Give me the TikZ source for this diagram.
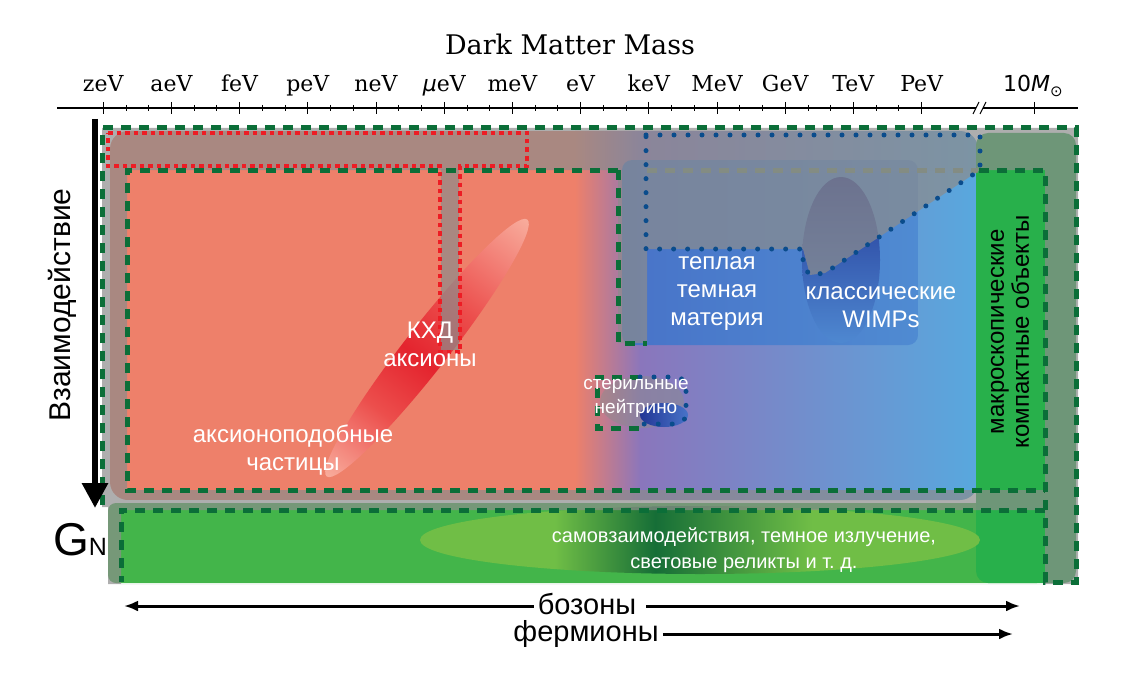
\documentclass[tikz,border=0pt]{standalone}
\usepackage{fontspec}
\setmainfont{Liberation Sans}
\newfontfamily\serifaxis{DejaVu Serif}
\newfontfamily\sansaxis{DejaVu Sans}
\usetikzlibrary{arrows.meta}

\definecolor{salmon}{RGB}{238,128,106}
\definecolor{purp}{RGB}{138,118,188}
\definecolor{skyblue}{RGB}{88,168,222}
\definecolor{veilgrey}{RGB}{140,140,140}
\definecolor{boxgreen}{RGB}{11,110,56}
\definecolor{fadegreen}{RGB}{112,140,110}
\definecolor{dotred}{RGB}{237,28,36}
\definecolor{dotblue}{RGB}{10,76,140}
\definecolor{macrogreen}{RGB}{40,176,75}
\definecolor{selfgreen}{RGB}{67,181,74}
\definecolor{lightgreen}{RGB}{112,190,70}
\definecolor{deepgreen}{RGB}{22,110,55}
\definecolor{warmblue}{RGB}{72,115,200}
\definecolor{navy}{RGB}{35,55,150}
\definecolor{axred}{RGB}{228,36,46}
\definecolor{axmid}{RGB}{236,78,76}
\definecolor{axpale}{RGB}{248,172,156}

\pgfdeclarehorizontalshading{axionglow}{100bp}{color(0bp)=(axpale); color(25bp)=(axpale); color(38bp)=(axmid); color(48bp)=(axred); color(58bp)=(axmid); color(75bp)=(axpale); color(100bp)=(axpale)}
\pgfdeclarehorizontalshading{selfglow}{100bp}{color(0bp)=(lightgreen); color(37bp)=(lightgreen); color(46bp)=(deepgreen); color(60bp)=(lightgreen); color(100bp)=(lightgreen)}

\newcommand{\mueV}{{\sansaxis\itshape μ}eV}

\begin{document}
\begin{tikzpicture}[x=1pt, y=-1pt,
  greendash/.style={draw=boxgreen, line width=5pt, dash pattern=on 10pt off 8pt},
  fadedash/.style={draw=fadegreen, line width=5pt, dash pattern=on 10pt off 8pt},
  reddot/.style={draw=dotred, line width=4.5pt, dash pattern=on 4.5pt off 4pt},
  bluedot/.style={draw=dotblue, line width=5pt, dash pattern=on 0pt off 14pt, line cap=round},
  veil/.style={fill=veilgrey, fill opacity=0.7},
  regionlabel/.style={text=white, align=center, font=\fontsize{24}{28}\selectfont},
  ticklab/.style={font=\serifaxis\fontsize{22}{26}\selectfont, anchor=base},
  guide/.style={line width=3pt, -{Latex[length=14pt, width=11pt]}}]
\useasboundingbox (0,0) rectangle (1124,690);

% mass axis
\node[font=\serifaxis\fontsize{27}{30}\selectfont] (title) at (570,44) {Dark Matter Mass};
\foreach \lab [count=\i from 0] in {zeV,aeV,feV,peV,neV,\mueV,meV,eV,keV,MeV,GeV,TeV,PeV}
  \node[ticklab] (t\i) at ({103.2+68.2*\i},92) {\lab};
\node[font=\sansaxis\fontsize{22}{26}\selectfont, anchor=base] (solar) at (1033,92) {10\textit{M}\raisebox{-0.4ex}{\fontsize{15}{15}\selectfont ⊙}};
\coordinate (axL) at (57,108);
\coordinate (brkL) at (976,108);
\coordinate (brkR) at (983,108);
\coordinate (axR) at (1078,108);
\draw[line width=1.2pt] (axL) -- (brkL);
\draw[line width=1.2pt] (brkR) -- (axR);
\draw[line width=1pt] ([shift={(-3,6)}]brkL) -- ([shift={(3,-6)}]brkL);
\draw[line width=1pt] ([shift={(-3,6)}]brkR) -- ([shift={(3,-6)}]brkR);
\foreach \i in {0,...,12}
  \draw[line width=1pt] ({103.2+68.2*\i},102) -- ++(0,12);
\foreach \i in {0,...,11}
  \foreach \k in {1,2}
    \draw[line width=0.8pt] ({103.2+68.2*\i+22.73*\k},105) -- ++(0,6);
\draw[line width=1pt] (1034.6,102) -- ++(0,12);

% coloured regions
\begin{scope}
  \clip[rounded corners=18pt] (110,131) rectangle (978,500);
  \fill[salmon] (110,131) rectangle (576,500);
  \shade[left color=salmon, right color=purp] (575,131) rectangle (641,500);
  \shade[left color=purp, right color=skyblue] (640,131) rectangle (978,500);
\end{scope}
\fill[selfgreen, rounded corners=8pt] (108,503) rectangle (1045,583);
\fill[macrogreen, rounded corners=12pt] (976,133) rectangle (1076,583);
\shade[shading=selfglow] (700,540) ellipse (280 and 34);
\begin{scope}[transform canvas={rotate around={52:(427,348)}}]
  \shade[shading=axionglow] (427,348) ellipse (163 and 22);
\end{scope}
\shade[left color=warmblue, right color=warmblue!55!skyblue, rounded corners=10pt] (622,160) rectangle (918,345);
\shade[top color=navy, middle color=navy, bottom color=warmblue!60!skyblue] (841,260) ellipse (39 and 83);
\fill[veilgrey, opacity=0.5] (642,402) ellipse (42 and 26);
\shade[left color=navy, right color=warmblue] (664,415) ellipse (24 and 12);

% faded line under the grey veil
\draw[fadedash] (647,170) -- (978,170);

% grey veil
\fill[veil, even odd rule]
  (102,128) -- (1078,128) -- (1078,584) -- (108,584) -- (108,507) -- (102,507) -- cycle
  (127,170) -- (618,170) -- (618,343) -- (647,343) -- (647,170) -- (1045,170) -- (1045,490) -- (127,490) -- cycle
  (121,510) -- (1045,510) -- (1045,584) -- (121,584) -- cycle;
\fill[veil] (647,170) -- (980,170) -- (825,273) -- (810,275) -- (803,249) -- (647,249) -- cycle;
\fill[veil] (441,169) rectangle (459,350);

% borders
\draw[greendash] (102,505) -- (102,128) -- (1076,128) -- (1076,582) -- (1045,582) -- (1045,170) -- (978,170);
\draw[greendash] (618,170) -- (127,170) -- (127,490) -- (1045,490);
\draw[greendash] (618,170) -- (618,343) -- (647,343);
\draw[greendash] (1045,510) -- (121,510) -- (121,582);
\draw[reddot] (108,133) -- (527,133) -- (527,166) -- (460,166) -- (460,352) -- (440,352) -- (440,166) -- (108,166) -- cycle;
\draw[bluedot] (646,135) -- (980,135) -- (980,170) -- (825,273) -- (810,275) -- (803,266) -- (803,249) -- (646,249) -- cycle;
\draw[greendash] (640,377) -- (597,377) -- (597,428) -- (640,428);
\draw[bluedot, rounded corners=10pt] (640,377) -- (686,377) -- (686,424) -- (640,424);

% labels
\node[regionlabel] (qcd) at (430,344) {КХД\\аксионы};
\node[regionlabel] (alp) at (293,450) {аксионоподобные\\частицы};
\node[regionlabel] (warm) at (717,294) {теплая\\темная\\материя};
\node[regionlabel] (wimp) at (881,307) {классические\\WIMPs};
\node[regionlabel, font=\fontsize{19}{24}\selectfont] (sterile) at (636,398) {стерильные\\нейтрино};
\node[regionlabel, font=\fontsize{20}{26}\selectfont] (selfint) at (744,550) {самовзаимодействия, темное излучение,\\световые реликты и т.~д.};
\node[rotate=90, align=center, font=\fontsize{24}{25}\selectfont] (macro) at (1010,332) {макроскопические\\компактные объекты};
\node[rotate=90, font=\fontsize{30}{34}\selectfont] (inter) at (62,305) {Взаимодействие};
\node (gn) at (80,540) {\fontsize{46}{46}\selectfont G\fontsize{25}{25}\selectfont N};

% arrows
\coordinate (itop) at (95,119);
\coordinate (ibot) at (95,508);
\draw[line width=6pt, -{Triangle[width=25pt, length=25pt]}] (itop) -- (ibot);
\node[font=\fontsize{29}{33}\selectfont, inner xsep=4pt, inner ysep=0pt, text depth=0pt] (boson) at (587,604) {бозоны};
\node[font=\fontsize{29}{33}\selectfont, inner xsep=4pt, inner ysep=0pt] (fermion) at (586,634) {фермионы};
\coordinate (bosL) at (124,606);
\coordinate (bosR) at (1020,606);
\coordinate (ferR) at (1013,634);
\draw[guide] (boson.west |- bosL) -- (bosL);
\draw[guide] ([xshift=6pt]boson.east |- bosR) -- (bosR);
\draw[guide] (fermion) -- (ferR);
\end{tikzpicture}
\end{document}
